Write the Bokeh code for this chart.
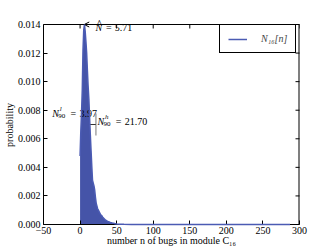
import math
from bokeh.plotting import figure
from bokeh.models import (Range1d, FixedTicker, Label, Arrow, OpenHead, Span,
                          Legend, LegendItem, ColumnDataSource, Whisker, TeeHead)
from bokeh.embed import file_html
from bokeh.resources import INLINE

# ---------------- data ----------------
n_values = [0, 1, 2, 3, 4, 5, 6, 7, 8, 9, 10, 11, 12, 13, 14, 15, 16, 17, 18, 19,
            20, 21, 22, 23, 24, 25, 26, 27, 28, 29, 30, 31, 32, 33, 34, 35, 36, 37,
            38, 39, 40, 41, 42, 43, 44, 45, 46, 48, 50, 55, 60, 70, 100, 150, 200,
            250, 287]
probabilities = [0.0048, 0.0065, 0.0078, 0.0094, 0.0122, 0.0136, 0.0140, 0.0135,
                 0.0128, 0.0120, 0.0108, 0.0097, 0.0088, 0.0075, 0.0063, 0.0052,
                 0.0041, 0.0031, 0.0029, 0.0027, 0.0024, 0.0019, 0.0015, 0.0013,
                 0.0011, 0.0010, 0.0009, 0.0008, 0.0007, 0.00065, 0.0006, 0.00052,
                 0.00045, 0.0004, 0.00035, 0.0003, 0.00027, 0.00024, 0.00021,
                 0.00019, 0.00017, 0.00015, 0.00013, 0.00012, 0.0001, 0.00009,
                 0.00008, 0.00006, 0.00004, 0.00002, 0.00001, 0.0, 0.0, 0.0, 0.0,
                 0.0, 0.0]

x_ticks = [-50, 0, 50, 100, 150, 200, 250, 300]
x_tick_labels = ["\u221250", "0", "50", "100", "150", "200", "250", "300"]
y_ticks = [0.000, 0.002, 0.004, 0.006, 0.008, 0.010, 0.012, 0.014]
y_tick_labels = ["0.000", "0.002", "0.004", "0.006", "0.008", "0.010", "0.012", "0.014"]

n_hat = 5.71
n_hat_level = 0.014
n90_low = 3.97
n90_high = 21.70
interval_level = 0.007

x_label_text = "number n of bugs in module C\u2081\u2086"
y_label_text = "probability"
legend_label = "N\u2081\u2086[n]"

# ---------------- layout / styles ----------------
FONT = "Liberation Serif"
FILL = "#4554a8"
LINE = "#4b5bb3"
BOX_H = 200          # px height of the visible axes box
HEAD = 9             # px of free frame space kept above the box for the top annotation
x0, x1 = x_ticks[0], x_ticks[-1]
y0, y1 = y_ticks[0], y_ticks[-1]
px = (y1 - y0) / BOX_H                      # data units per pixel (vertical)
y_top = y1 + HEAD * px

p = figure(width=332, height=249, x_range=Range1d(x0, x1), y_range=Range1d(y0, y_top),
           output_backend="svg", toolbar_location=None,
           min_border_left=41, min_border_right=33, min_border_top=24 - HEAD,
           min_border_bottom=25)
p.grid.visible = False
p.outline_line_color = None
p.background_fill_color = "white"
p.border_fill_color = "white"


def style_axis(ax, ticks, labels, label_text):
    ax.ticker = FixedTicker(ticks=ticks)
    ax.major_label_overrides = dict(zip(ticks, labels))
    ax.axis_line_color = "black"
    ax.major_tick_line_color = "black"
    ax.major_tick_in = 4
    ax.major_tick_out = 0
    ax.minor_tick_line_color = None
    ax.major_label_text_font = FONT
    ax.major_label_text_color = "black"
    ax.major_label_text_font_size = "10px"
    ax.axis_label = label_text
    ax.axis_label_text_font = FONT
    ax.axis_label_text_font_style = "normal"
    ax.axis_label_text_font_size = "10px"
    ax.axis_label_text_color = "black"


# the y label is centred on the whole frame; a little trailing space moves it
# down to the centre of the visible box
style_axis(p.xaxis[0], x_ticks, x_tick_labels, x_label_text)
style_axis(p.yaxis[0], y_ticks, y_tick_labels, y_label_text + "\u2002\u2002")
p.xaxis[0].major_label_standoff = 2
p.xaxis[0].axis_label_standoff = -2
p.yaxis[0].major_label_standoff = 3
p.yaxis[0].axis_label_standoff = 0
p.yaxis[0].bounds = (y0, y1)

# the rest of the axes box: top and right spines with inward ticks
p.add_layout(Span(location=y1, dimension="width", line_color="black", line_width=1))
p.segment(x0=[x1], y0=[y0], x1=[x1], y1=[y1], line_color="black", line_width=2)
p.segment(x0=x_ticks, y0=[y1] * len(x_ticks), x1=x_ticks, y1=[y1 - 4 * px] * len(x_ticks),
          line_color="black", line_width=1)
p.scatter(x=[x1] * len(y_ticks), y=y_ticks, marker="dash", size=8,
          line_color="black", line_width=1)

src = ColumnDataSource(dict(n=n_values, p=probabilities))
p.varea(x="n", y1=0, y2="p", source=src, fill_color=FILL, fill_alpha=1)
line = p.line("n", "p", source=src, line_color=LINE, line_width=1.5, level="overlay")

# 90% interval bar
p.add_layout(Whisker(base=interval_level, lower=n90_low, upper=n90_high,
                     dimension="width", line_color="black", line_width=0.8,
                     lower_head=TeeHead(size=22, line_color="black", line_width=0.8),
                     upper_head=TeeHead(size=22, line_color="#555555", line_width=0.8)))

# arrow to the mode
p.add_layout(Arrow(x_start=n_hat + 13, y_start=n_hat_level, x_end=n_hat, y_end=n_hat_level,
                   line_color="black", line_width=1,
                   end=OpenHead(size=5, line_color="black", line_width=1)))


def lab(x, y, dx, dy, text, size="10px", style="normal", **kw):
    p.add_layout(Label(x=x, y=y, x_offset=dx, y_offset=dy, text=text,
                       text_font=FONT, text_font_size=size, text_font_style=style,
                       text_color="black", text_baseline=kw.pop("baseline", "alphabetic"),
                       text_align=kw.pop("align", "left"), **kw))


def math_label(x, y, dx, dy, sup, sub, rest, hat=False, rest_dx=15):
    lab(x, y, dx, dy, "N", style="italic")
    if sup:
        lab(x, y, dx + 7.5, dy + 4.5, sup, size="7px", style="italic")
    if sub:
        lab(x, y, dx + 6.0, dy - 2.5, sub, size="7px")
    if hat:
        lab(x, y, dx + 1.0, dy + 3.5, "^", size="12px")
    lab(x, y, dx + rest_dx, dy, rest)


SP = "\u2004"
math_label(n_hat, n_hat_level, 11.3, -3, None, None, SP + "=" + SP + "5.71", hat=True, rest_dx=7)
math_label(n90_low, interval_level, -30.7, 11, "l", "90", SP + "=" + SP + "3.97")
math_label(n90_high, interval_level, 1.5, 3, "h", "90", SP + "=" + SP + "21.70")

legend = Legend(items=[LegendItem(label=legend_label, renderers=[line])],
                location=(176, 171), border_line_color="black", border_line_width=1,
                border_line_alpha=1, background_fill_alpha=1, padding=8, margin=0,
                glyph_width=19, glyph_height=8, label_height=8, label_standoff=14,
                label_text_font=FONT, label_text_font_style="italic",
                label_text_font_size="10px", spacing=0)
p.add_layout(legend)

open("out.html", "w").write(file_html(p, INLINE))
